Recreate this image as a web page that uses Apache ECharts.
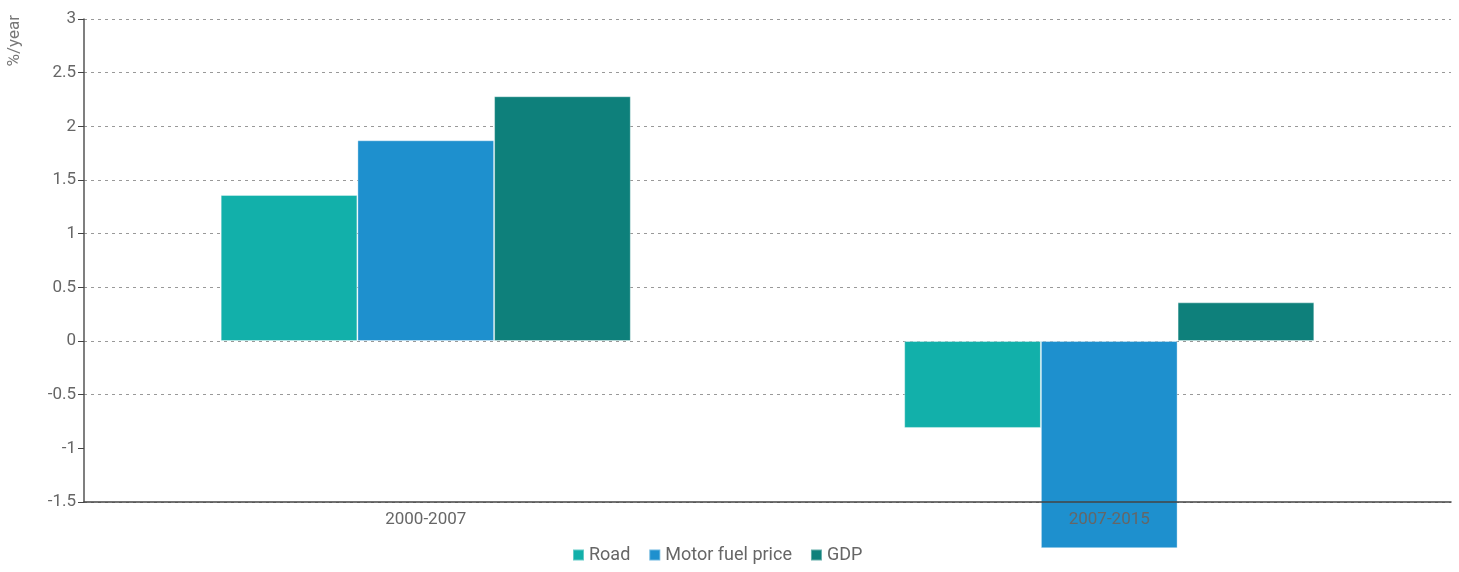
<!DOCTYPE html>
<html>
<head>
<meta charset="utf-8">
<script src="https://cdn.jsdelivr.net/npm/echarts@6/dist/echarts.min.js"></script>
<style>
  html, body { margin: 0; padding: 0; background: #fff; }
  #chart { width: 1459px; height: 572px; }
</style>
</head>
<body>
<div id="chart"></div>
<script>
const categories = ['2000-2007', '2007-2015'];
const road = [1.36, -0.81];
const motorFuelPrice = [1.87, -1.93];
const gdp = [2.28, 0.36];

const labelFont = 'Roboto, "Liberation Sans", sans-serif';
const labelColor = '#666';

const chart = echarts.init(document.getElementById('chart'));

function barSeries(name, data, color) {
  return {
    name: name,
    type: 'bar',
    data: data,
    clip: false,
    barGap: 0,
    barCategoryGap: '40%',
    itemStyle: { color: color, borderColor: 'rgba(255,255,255,0.35)', borderWidth: 1 }
  };
}

chart.setOption({
  animation: false,
  textStyle: { fontFamily: labelFont },
  grid: { left: 84, right: 8, top: 19, bottom: 70 },
  legend: {
    bottom: 3,
    left: 567,
    itemWidth: 11,
    itemHeight: 11,
    itemGap: 18,
    icon: 'rect',
    textStyle: { color: labelColor, fontSize: 18, fontFamily: labelFont },
    data: ['Road', 'Motor fuel price', 'GDP']
  },
  graphic: [{
    type: 'text',
    left: 6,
    top: 15,
    rotation: Math.PI / 2,
    style: { text: '%/year', fill: '#777', font: '17px ' + labelFont }
  }],
  xAxis: {
    type: 'category',
    data: categories,
    z: 5,
    axisLine: { onZero: false, lineStyle: { color: '#444', width: 1.5 } },
    axisTick: { alignWithLabel: true, length: 6, lineStyle: { color: '#444' } },
    axisLabel: { color: labelColor, fontSize: 17, margin: 9 }
  },
  yAxis: {
    type: 'value',
    min: -1.5,
    max: 3,
    interval: 0.5,
    axisLine: { show: true, lineStyle: { color: '#555', width: 1.5 } },
    axisTick: { show: true, length: 6, lineStyle: { color: '#444' } },
    axisLabel: { color: labelColor, fontSize: 17, margin: 8 },
    splitLine: {
      lineStyle: {
        color: ['#999', 'transparent', '#999', '#999', '#999', '#999', '#999', '#999', '#999', '#999'],
        type: [3, 4],
        width: 1
      }
    }
  },
  series: [
    barSeries('Road', road, '#12b0aa'),
    barSeries('Motor fuel price', motorFuelPrice, '#1e90ce'),
    barSeries('GDP', gdp, '#0e807b')
  ]
});
</script>
</body>
</html>
